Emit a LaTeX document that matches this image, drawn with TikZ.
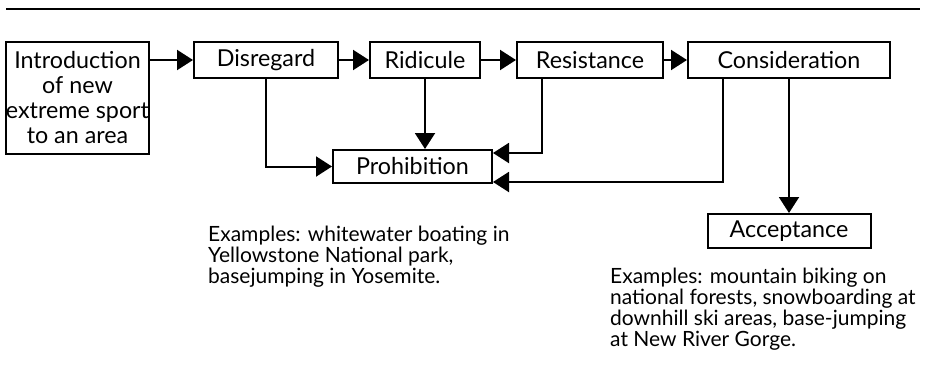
\documentclass[tikz,border=0pt]{standalone}
\usepackage{fontspec}
\setmainfont{Lato}
\usetikzlibrary{arrows.meta}
\tikzset{
  box/.style={draw, line width=2pt, inner sep=0pt, font=\fontsize{23.3}{25}\selectfont, align=center},
  arr/.style={line width=2pt, -{Triangle[length=16pt,width=20pt]}},
  note/.style={inner sep=0pt, anchor=north west, align=left, font=\fontsize{21}{21}\selectfont}
}
\begin{document}
\begin{tikzpicture}[x=1pt,y=-1pt]
\useasboundingbox (0,0) rectangle (930,370);
\draw[line width=2.5pt] (6,9) -- (920,9);
\node[box, minimum width=143pt, minimum height=112pt] (intro) at (77.5,98) {Introduction\\of new\\extreme sport\\to an area};
\node[box, minimum width=144pt, minimum height=36pt] (dis) at (266,60) {Disregard};
\node[box, minimum width=110pt, minimum height=36pt] (rid) at (425,60) {Ridicule};
\node[box, minimum width=146pt, minimum height=36pt] (res) at (590,60) {Resistance};
\node[box, minimum width=202pt, minimum height=36pt] (con) at (789,60) {Consideration};
\node[box, minimum width=159pt, minimum height=33pt] (pro) at (412.5,166.5) {Prohibition};
\node[box, minimum width=163pt, minimum height=34pt] (acc) at (789,231) {Acceptance};
\node[note] (ex1) at (208,226) {Examples: whitewater boating in\\Yellowstone National park,\\basejumping in Yosemite.};
\node[note] (ex2) at (610,268) {Examples: mountain biking on\\national forests, snowboarding at\\downhill ski areas, base-jumping\\at New River Gorge.};
\coordinate (resd) at ([xshift=-48pt]res.south);
\coordinate (cond) at ([xshift=-66pt]con.south);
\coordinate (proa) at ([yshift=-4pt]pro.north east);
\coordinate (prob) at ([yshift=2pt]pro.south east);
\draw[arr] (intro.east |- dis.west) -- (dis.west);
\draw[arr] (dis.east) -- (rid.west);
\draw[arr] (rid.east) -- (res.west);
\draw[arr] (res.east) -- (con.west);
\draw[arr] (rid.south) -- (pro.north -| rid.south);
\draw[arr] (dis.south) |- (pro.west);
\draw[arr] (resd) |- (proa);
\draw[arr] (cond) |- (prob);
\draw[arr] (con.south) -- (acc.north);
\end{tikzpicture}
\end{document}
